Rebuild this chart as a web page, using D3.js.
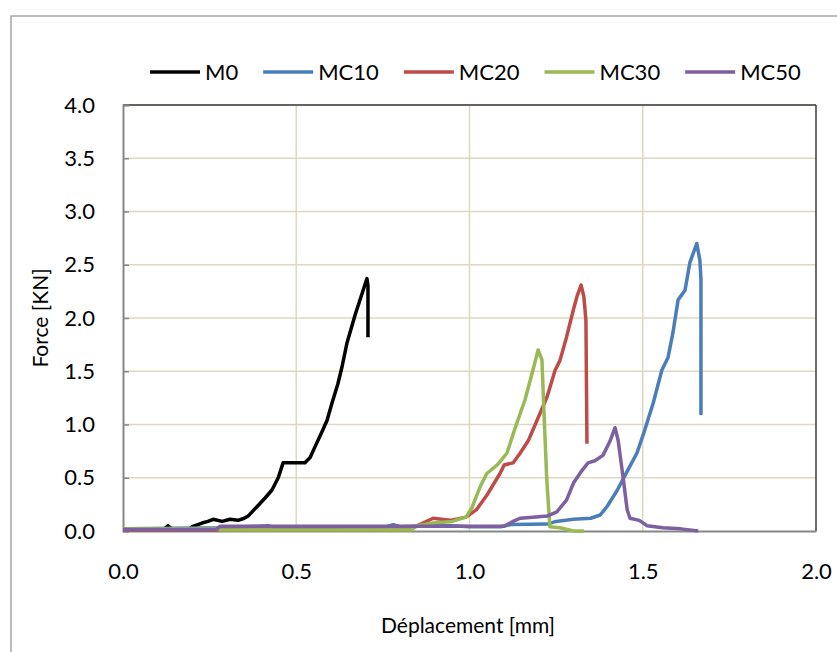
<!DOCTYPE html>
<html><head><meta charset="utf-8">
<script src="https://cdn.jsdelivr.net/npm/d3@7"></script>
<style>body{margin:0;background:#fff}svg{display:block}text{font-family:Lato,"Open Sans",sans-serif;fill:#000}</style>
</head><body><svg id="c" width="837" height="652"></svg>
<script>
const seriesNames = ["M0","MC10","MC20","MC30","MC50"];
const seriesColors = ["#000000","#4a7ebb","#be4b48","#98b954","#7d60a0"];
const xTicks = [0,0.5,1.0,1.5,2.0];
const yTicks = [0,0.5,1.0,1.5,2.0,2.5,3.0,3.5,4.0];
const m0 = [[0,0.02],[0.12,0.02],[0.13,0.05],[0.14,0.02],[0.19,0.02],[0.20,0.04],[0.228,0.075],[0.245,0.09],[0.26,0.11],[0.286,0.09],[0.309,0.11],[0.332,0.10],[0.35,0.12],[0.361,0.14],[0.39,0.24],[0.41,0.31],[0.43,0.385],[0.448,0.50],[0.462,0.64],[0.496,0.64],[0.525,0.64],[0.54,0.69],[0.554,0.79],[0.574,0.93],[0.589,1.04],[0.603,1.20],[0.62,1.38],[0.632,1.54],[0.646,1.76],[0.67,2.03],[0.69,2.23],[0.704,2.37],[0.707,2.30],[0.707,1.82]];
const mc10 = [[0,0.02],[0.3,0.03],[0.42,0.05],[0.44,0.03],[0.76,0.04],[0.78,0.06],[0.8,0.04],[0.88,0.05],[0.95,0.05],[1.0,0.04],[1.09,0.04],[1.12,0.06],[1.224,0.065],[1.25,0.09],[1.30,0.11],[1.35,0.12],[1.377,0.15],[1.397,0.23],[1.426,0.38],[1.455,0.56],[1.483,0.73],[1.506,0.95],[1.53,1.20],[1.555,1.51],[1.573,1.63],[1.587,1.86],[1.602,2.17],[1.622,2.26],[1.636,2.52],[1.656,2.70],[1.665,2.54],[1.668,2.36],[1.668,1.09]];
const mc20 = [[0,0.01],[0.82,0.01],[0.85,0.05],[0.895,0.12],[0.944,0.10],[0.99,0.13],[1.02,0.20],[1.053,0.35],[1.088,0.54],[1.10,0.62],[1.126,0.64],[1.146,0.73],[1.17,0.85],[1.195,1.04],[1.224,1.26],[1.247,1.51],[1.261,1.60],[1.28,1.82],[1.30,2.08],[1.31,2.20],[1.322,2.31],[1.33,2.20],[1.336,1.98],[1.339,0.82]];
const mc30 = [[0,0.02],[0.27,0.02],[0.28,0.01],[0.83,0.01],[0.85,0.05],[0.895,0.075],[0.95,0.09],[0.99,0.13],[1.007,0.22],[1.03,0.41],[1.05,0.54],[1.08,0.62],[1.108,0.73],[1.13,0.95],[1.16,1.23],[1.183,1.51],[1.198,1.70],[1.209,1.61],[1.215,1.11],[1.223,0.48],[1.232,0.04],[1.261,0.03],[1.30,0.0],[1.33,0.0]];
const mc50 = [[0,0.015],[0.27,0.015],[0.28,0.045],[1.10,0.045],[1.126,0.09],[1.146,0.12],[1.183,0.13],[1.224,0.14],[1.252,0.18],[1.28,0.29],[1.30,0.45],[1.325,0.57],[1.342,0.64],[1.362,0.66],[1.385,0.71],[1.405,0.84],[1.42,0.97],[1.429,0.85],[1.443,0.51],[1.455,0.20],[1.463,0.12],[1.49,0.10],[1.512,0.05],[1.558,0.03],[1.61,0.02],[1.66,0.0]];
const seriesData = [m0, mc10, mc20, mc30, mc50];

const svg = d3.select("#c");
const L=123, R=816, T=105, B=531;
const x = d3.scaleLinear().domain([0,2]).range([L,R]);
const y = d3.scaleLinear().domain([0,4]).range([B,T]);

svg.append("rect").attr("x",11).attr("y",16).attr("width",840).attr("height",650)
  .attr("fill","#fff").attr("stroke","#a6a6a6").attr("stroke-width",1.5);

// gridlines
const g = svg.append("g");
g.selectAll(".hg").data(yTicks.slice(1)).join("line")
  .attr("x1",L).attr("x2",R).attr("y1",d=>y(d)).attr("y2",d=>y(d))
  .attr("stroke","#ddd8bf").attr("stroke-width",1.5);
g.selectAll(".vg").data(xTicks.slice(1,-1)).join("line")
  .attr("y1",T).attr("y2",B).attr("x1",d=>x(d)).attr("x2",d=>x(d))
  .attr("stroke","#ddd8bf").attr("stroke-width",1.5);

// frame
svg.append("line").attr("x1",L).attr("x2",R).attr("y1",T).attr("y2",T).attr("stroke","#3a3a3a").attr("stroke-width",1.5);
svg.append("line").attr("x1",R).attr("x2",R).attr("y1",T).attr("y2",B).attr("stroke","#3a3a3a").attr("stroke-width",1.5);

// axes
const yAxis = d3.axisLeft(y).tickValues(yTicks).tickFormat(d3.format(".1f")).tickSize(-6).tickPadding(28);
const yg = svg.append("g").attr("transform",`translate(${L},0)`).call(yAxis);
yg.select(".domain").attr("stroke","#868686").attr("stroke-width",2);
yg.selectAll(".tick line").attr("stroke","#868686").attr("stroke-width",1.5);
yg.selectAll(".tick text").attr("font-size",22).attr("font-family","Lato").attr("fill","#111");

const xAxis = d3.axisBottom(x).tickValues(xTicks).tickFormat(d3.format(".1f")).tickSize(0).tickPadding(32);
const xg = svg.append("g").attr("transform",`translate(0,${B})`).call(xAxis);
xg.select(".domain").attr("stroke","#868686").attr("stroke-width",2);
xg.selectAll(".tick text").attr("font-size",22).attr("font-family","Lato").attr("fill","#111");

// series
const line = d3.line().x(d=>x(d[0])).y(d=>y(d[1]));
svg.append("g").selectAll("path").data(seriesData).join("path")
  .attr("d",line).attr("fill","none")
  .attr("stroke",(d,i)=>seriesColors[i]).attr("stroke-width",3.5)
  .attr("stroke-linejoin","round").attr("stroke-linecap","butt");

// axis titles
svg.append("text").attr("x",468).attr("y",633).attr("text-anchor","middle")
  .attr("font-size",21).attr("fill","#111").text("Déplacement [mm]");
svg.append("text").attr("transform","translate(48,318) rotate(-90)").attr("text-anchor","middle")
  .attr("font-size",21).attr("fill","#111").text("Force [KN]");

// legend
const lg = svg.append("g");
let lx = 150;
seriesNames.forEach((n,i)=>{
  lg.append("line").attr("x1",lx).attr("x2",lx+50).attr("y1",72).attr("y2",72)
    .attr("stroke",seriesColors[i]).attr("stroke-width",3.5);
  const t = lg.append("text").attr("x",lx+55).attr("y",80).attr("font-size",22).attr("fill","#111").text(n);
  lx += 55 + t.node().getComputedTextLength() + 25;
});
</script></body></html>
